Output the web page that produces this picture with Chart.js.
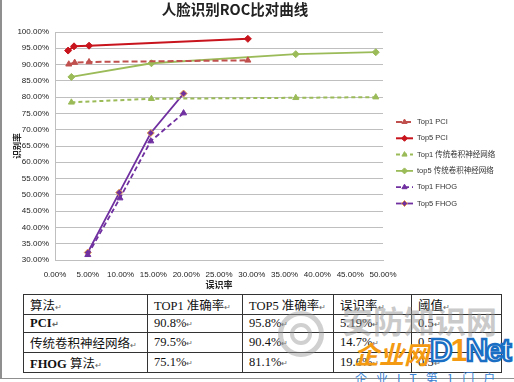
<!DOCTYPE html>
<html>
<head>
<meta charset="utf-8">
<script src="https://cdn.jsdelivr.net/npm/chart.js@4.4.1/dist/chart.umd.min.js"></script>
<style>
  html,body{margin:0;padding:0;background:#fff;width:514px;height:382px;overflow:hidden;}
  #frame{position:absolute;left:0;top:0;width:512px;height:378px;border-left:2px solid #8f8f8f;border-bottom:1px solid #8f8f8f;}
  #title{position:absolute;left:0;top:0;width:470px;text-align:center;font-family:"Noto Sans CJK SC","Liberation Sans",sans-serif;font-weight:bold;font-size:14.5px;line-height:18px;color:#222;}
  #c{position:absolute;left:0;top:0;}
  table{position:absolute;left:23px;top:294px;width:478px;border-collapse:collapse;table-layout:fixed;font-family:"Liberation Serif","Noto Sans CJK SC",serif;font-size:12.5px;color:#111;}
  td{border:1px solid #333;padding:0 0 0 6px;white-space:nowrap;overflow:hidden;}
  .pm{font-size:8px;color:#666;}
  .wm{position:absolute;white-space:nowrap;font-family:"Noto Sans CJK SC",sans-serif;font-weight:bold;}
</style>
</head>
<body>
<div id="frame"></div>
<canvas id="c" width="514" height="292"></canvas>
<div id="title">人脸识别ROC比对曲线</div>
<table>
  <colgroup><col style="width:124px"><col style="width:95px"><col style="width:91px"><col style="width:78px"><col style="width:90px"></colgroup>
  <tbody id="tb"></tbody>
</table>
<div class="wm" style="left:278px;top:311px;width:36px;height:36px;border-radius:50%;border:5px solid rgba(150,150,150,0.45);"></div>
<div class="wm" style="left:290px;top:323px;width:14px;height:14px;border-radius:50%;border:4px solid rgba(150,150,150,0.45);"></div>
<div class="wm" style="left:342px;top:300px;font-size:31px;line-height:40px;color:rgba(150,150,150,0.5);">安防知识网</div>
<div class="wm" style="left:354px;top:336px;font-size:25px;line-height:34px;color:#f39a12;font-style:italic;">企业网</div>
<div class="wm" style="left:430px;top:333px;font-family:'Liberation Sans',sans-serif;font-size:31px;line-height:36px;color:#fff;-webkit-text-stroke:2.5px #1a6fc4;letter-spacing:-2px;">D<span style="color:#f39a12;-webkit-text-stroke:0;">1</span>Net</div>
<div class="wm" style="left:355px;top:371px;font-size:12px;line-height:14px;color:#3a7fd0;font-weight:normal;letter-spacing:9px;">企业IT第1门户</div>
<script>
// ---- data ----
const seriesNames = ['Top1 PCI', 'Top5 PCI', 'Top1 传统卷积神经网络', 'top5 传统卷积神经网络', 'Top1 FHOG', 'Top5 FHOG'];
const top1PciX = [2.1, 3.0, 5.19, 29.4];
const top1PciY = [90.1, 90.6, 90.8, 91.3];
const top5PciX = [2.0, 2.9, 5.19, 29.4];
const top5PciY = [94.3, 95.6, 95.8, 97.9];
const top1CnnX = [2.5, 14.7, 36.7, 48.9];
const top1CnnY = [78.4, 79.5, 79.8, 80.0];
const top5CnnX = [2.5, 14.7, 36.7, 48.9];
const top5CnnY = [86.2, 90.4, 93.2, 93.8];
const top1FhogX = [5.0, 9.9, 14.6, 19.6];
const top1FhogY = [31.6, 49.0, 66.5, 75.1];
const top5FhogX = [5.0, 9.8, 14.6, 19.6];
const top5FhogY = [32.3, 50.7, 69.0, 81.1];
const xTicks = [0, 5, 10, 15, 20, 25, 30, 35, 40, 45, 50];
const yTicks = [30, 35, 40, 45, 50, 55, 60, 65, 70, 75, 80, 85, 90, 95, 100];
const xTitle = '误识率';
const yTitle = '识别率';

const tableHeader = ['算法', 'TOP1 准确率', 'TOP5 准确率', '误识率', '阈值'];
const tableAlgos = ['PCI', '传统卷积神经网络', 'FHOG 算法'];
const tableTop1 = ['90.8%', '79.5%', '75.1%'];
const tableTop5 = ['95.8%', '90.4%', '81.1%'];
const tableFar = ['5.19%', '14.7%', '19.6%'];
const tableThr = ['0.5', '0.5', '0.5'];

// ---- table ----
const rowHeights = [20, 18, 19, 20];
const tb = document.getElementById('tb');
const rows = [tableHeader].concat(tableAlgos.map((a, i) => [a, tableTop1[i], tableTop5[i], tableFar[i], tableThr[i]]));
rows.forEach((r, ri) => {
  const tr = document.createElement('tr');
  tr.style.height = rowHeights[ri] + 'px';
  r.forEach((c, ci) => {
    const td = document.createElement('td');
    td.innerHTML = c + '<span class="pm">↵</span>';
    if (ri > 0 && ci === 0 && c === 'PCI') td.style.fontWeight = 'bold';
    if (ri > 0 && ci === 0 && c.startsWith('FHOG')) td.innerHTML = '<b>FHOG</b> 算法<span class="pm">↵</span>';
    tr.appendChild(td);
  });
  tb.appendChild(tr);
});

// ---- chart ----
const pts = (xs, ys) => xs.map((x, i) => ({x: x, y: ys[i]}));
const FONT = '"Liberation Sans Narrow","Arial Narrow","Liberation Sans",sans-serif';
const styles = [
  {c: '#c0504d', dash: [6, 3], ps: 'triangle', pb: '#c0504d', w: 2},
  {c: '#c8141c', dash: [], ps: 'rectRot', pb: '#c8141c', w: 2},
  {c: '#9bbb59', dash: [4, 3], ps: 'triangle', pb: '#9bbb59', w: 2},
  {c: '#9bbb59', dash: [], ps: 'rectRot', pb: '#9bbb59', w: 1.8},
  {c: '#7030a0', dash: [5, 3], ps: 'triangle', pb: '#7030a0', w: 1.8},
  {c: '#7030a0', dash: [], ps: 'rectRot', pb: '#e39a4a', w: 1.8}
];
const seriesData = [pts(top1PciX, top1PciY), pts(top5PciX, top5PciY), pts(top1CnnX, top1CnnY), pts(top5CnnX, top5CnnY), pts(top1FhogX, top1FhogY), pts(top5FhogX, top5FhogY)];

const datasets = seriesNames.map((n, i) => ({
  label: n,
  data: seriesData[i],
  borderColor: styles[i].c,
  backgroundColor: styles[i].c,
  borderWidth: styles[i].w,
  borderDash: styles[i].dash,
  pointStyle: styles[i].ps,
  pointRadius: 3.5,
  pointBackgroundColor: styles[i].c,
  pointBorderColor: styles[i].pb,
  pointBorderWidth: 1,
  tension: 0,
  fill: false
}));

const legendPlugin = {
  id: 'excelLegend',
  afterDraw(chart) {
    const ctx = chart.ctx;
    const area = chart.chartArea;
    // axis titles
    ctx.save();
    ctx.fillStyle = '#222';
    ctx.textAlign = 'center';
    ctx.textBaseline = 'middle';
    ctx.font = 'bold 9px "Noto Sans CJK SC",sans-serif';
    ctx.fillText(xTitle, (area.left + area.right) / 2, area.bottom + 25);
    ctx.translate(17, (area.top + area.bottom) / 2);
    ctx.rotate(-Math.PI / 2);
    ctx.font = 'bold 8.5px "Noto Sans CJK SC",sans-serif';
    ctx.fillText(yTitle, 0, 0);
    ctx.restore();
    // legend
    chart.data.datasets.forEach((ds, i) => {
      const y = 122 + i * 16.3;
      ctx.save();
      ctx.strokeStyle = ds.borderColor;
      ctx.lineWidth = ds.borderWidth;
      ctx.setLineDash(ds.borderDash);
      ctx.beginPath();
      ctx.moveTo(396, y);
      ctx.lineTo(413, y);
      ctx.stroke();
      ctx.setLineDash([]);
      ctx.fillStyle = ds.pointBackgroundColor;
      ctx.strokeStyle = ds.pointBorderColor;
      ctx.lineWidth = 1;
      Chart.helpers.drawPoint(ctx, {pointStyle: ds.pointStyle, radius: 3, rotation: 0, borderWidth: 1}, 404.5, y);
      ctx.fillStyle = '#333';
      ctx.font = '7.5px ' + FONT + ',"Noto Sans CJK SC"';
      ctx.textBaseline = 'middle';
      ctx.textAlign = 'left';
      ctx.fillText(ds.label, 417, y);
      ctx.restore();
    });
  }
};

new Chart(document.getElementById('c'), {
  type: 'line',
  data: {datasets: datasets},
  options: {
    responsive: false,
    animation: false,
    devicePixelRatio: 1,
    layout: {padding: {top: 32, right: 131, bottom: 0, left: 0}},
    plugins: {legend: {display: false}, title: {display: false}, tooltip: {enabled: false}},
    scales: {
      x: {
        type: 'linear', min: 0, max: 50,
        afterBuildTicks: s => { s.ticks = xTicks.map(v => ({value: v})); },
        ticks: {callback: v => v.toFixed(2) + '%', font: {family: FONT, size: 8}, color: '#222', padding: 2, maxRotation: 0, autoSkip: false},
        grid: {display: false},
        border: {display: true, color: '#bfbfbf'},
        afterFit: s => { s.height = 32; }
      },
      y: {
        type: 'linear', min: 30, max: 100,
        afterBuildTicks: s => { s.ticks = yTicks.map(v => ({value: v})); },
        ticks: {callback: v => v.toFixed(2) + '%', font: {family: FONT, size: 8}, color: '#222', padding: 6, autoSkip: false},
        grid: {color: '#bfbfbf', drawTicks: false, lineWidth: 1},
        border: {display: true, color: '#bfbfbf'},
        afterFit: s => { s.width = 55; }
      }
    }
  },
  plugins: [legendPlugin]
});
</script>
</body>
</html>
